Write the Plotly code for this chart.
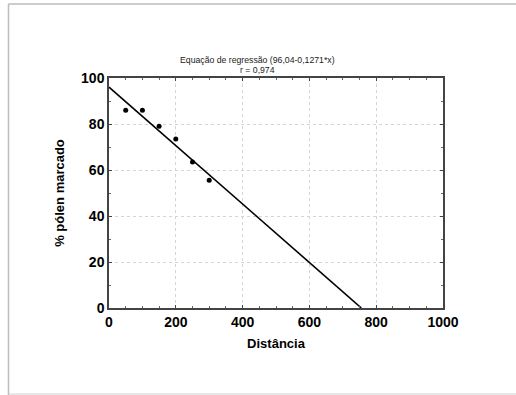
import plotly.graph_objects as go

# Data
distancia = [50, 100, 150, 200, 250, 300]
polen_marcado = [86, 86, 79, 73.5, 63.5, 55.5]
intercept = 96.04
slope = -0.1271
x_line = [0, -intercept / slope]
y_line = [intercept + slope * v for v in x_line]

title_lines = ["Equação de regressão (96,04-0,1271*x)", "r = 0,974"]
x_ticks = [0, 200, 400, 600, 800, 1000]
y_ticks = [0, 20, 40, 60, 80, 100]

W, H = 516, 395
L, R, T, B = 109, 73, 78, 87
pw, ph = W - L - R, H - T - B


def px(x):
    return (x - L) / pw


def py(y):
    return (H - B - y) / ph


fig = go.Figure()
fig.add_trace(go.Scatter(x=x_line, y=y_line, mode="lines",
                         line=dict(color="black", width=1.6), showlegend=False))
fig.add_trace(go.Scatter(x=distancia, y=polen_marcado, mode="markers",
                         marker=dict(color="black", size=5), showlegend=False))

axis_common = dict(
    showgrid=True, gridcolor="#d4d4d4", griddash="dot", gridwidth=1,
    showline=True, linecolor="#444", linewidth=1.5, mirror="allticks",
    ticks="inside", ticklen=3, tickcolor="#444",
    tickfont=dict(family="Liberation Sans, Arial", size=14, color="black", weight="bold"),
    zeroline=False,
)

fig.update_xaxes(range=[0, 1000], tickvals=x_ticks, **axis_common,
                 minor=dict(dtick=50, ticks="inside", ticklen=2, tickcolor="#666", showgrid=False),
                 title=dict(text="Distância", standoff=10,
                            font=dict(family="Liberation Sans, Arial", size=13, color="black", weight="bold")))
fig.update_yaxes(range=[0, 100], tickvals=y_ticks, **axis_common,
                 minor=dict(dtick=10, ticks="inside", ticklen=2, tickcolor="#666", showgrid=False),
                 title=dict(text="% pólen marcado", standoff=14,
                            font=dict(family="Liberation Sans, Arial", size=13, color="black", weight="bold")))

annotations = [
    dict(x=px(257), y=py(53), xref="paper", yref="paper", text=title_lines[0], showarrow=False,
         font=dict(family="Liberation Sans Narrow, Liberation Sans", size=8.7, color="#222")),
    dict(x=px(257), y=py(63), xref="paper", yref="paper", text=title_lines[1], showarrow=False,
         font=dict(family="Liberation Sans Narrow, Liberation Sans", size=8.7, color="#222")),
]

shapes = [
    dict(type="line", xref="paper", yref="paper", x0=px(8.5), x1=px(516), y0=py(4), y1=py(4),
         line=dict(color="#9a9a9a", width=1)),
    dict(type="line", xref="paper", yref="paper", x0=px(8.5), x1=px(8.5), y0=py(4), y1=py(395),
         line=dict(color="#bdbdbd", width=1.5)),
    dict(type="line", xref="paper", yref="paper", x0=px(8.5), x1=px(516), y0=py(394), y1=py(394),
         line=dict(color="#d0d0d0", width=1)),
]

fig.update_layout(
    width=W, height=H, margin=dict(l=L, r=R, t=T, b=B),
    paper_bgcolor="white", plot_bgcolor="white",
    annotations=annotations, shapes=shapes, showlegend=False,
)

fig.write_html("out.html", config={"displayModeBar": False},
               post_script="document.body.style.margin='0';document.body.style.overflow='hidden';")
